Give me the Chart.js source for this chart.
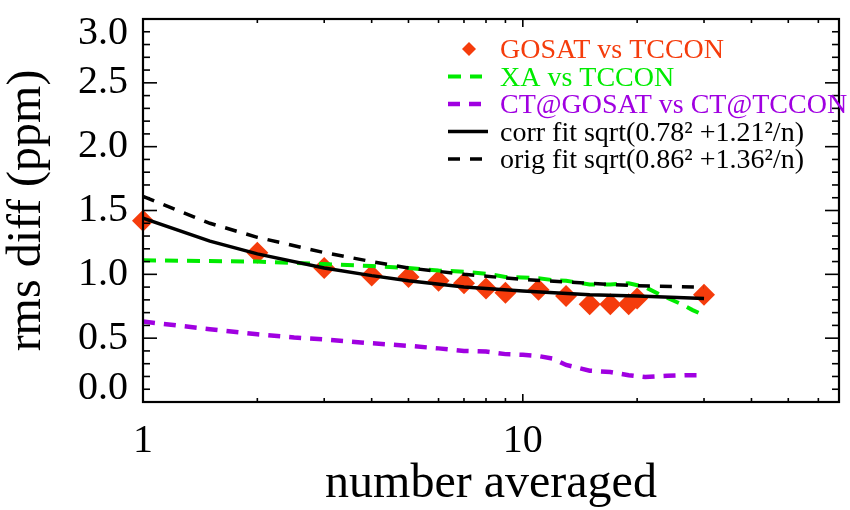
<!DOCTYPE html>
<html><head><meta charset="utf-8">
<script src="https://cdn.jsdelivr.net/npm/chart.js@4/dist/chart.umd.min.js"></script>
<style>html,body{margin:0;padding:0;background:#fff}</style>
</head><body>
<canvas id="c" width="850" height="510"></canvas>
<script>
// ---- data ----
const gosatN   = [1, 2, 3, 4, 5, 6, 7, 8, 9, 11, 13, 15, 17, 19, 20, 30];
const gosatRms = [1.42, 1.17, 1.05, 0.99, 0.98, 0.95, 0.93, 0.89, 0.855, 0.88, 0.83, 0.765, 0.765, 0.765, 0.81, 0.84];

const xaN   = [1, 2, 3, 4, 5, 6, 7, 8, 9, 10, 11, 12, 13, 15, 17, 19, 21, 23, 26, 28, 30];
const xaRms = [1.11, 1.10, 1.08, 1.065, 1.05, 1.03, 1.02, 1.005, 0.98, 0.975, 0.97, 0.955, 0.95, 0.92, 0.92, 0.93, 0.90, 0.84, 0.77, 0.72, 0.68];

const ctN   = [1, 1.5, 2, 2.5, 3, 4, 5, 6, 7, 8, 9, 10, 11, 12, 13, 15, 17, 19, 21, 24, 27, 30];
const ctRms = [0.63, 0.57, 0.53, 0.505, 0.49, 0.46, 0.44, 0.42, 0.40, 0.395, 0.375, 0.37, 0.36, 0.34, 0.29, 0.245, 0.235, 0.21, 0.195, 0.205, 0.21, 0.21];

const fitN    = [1, 1.5, 2, 3, 4, 5, 7, 10, 15, 20, 30];
const corrFit = [1.44, 1.26, 1.16, 1.05, 0.99, 0.95, 0.90, 0.87, 0.84, 0.83, 0.81];
const origFit = [1.61, 1.40, 1.29, 1.17, 1.10, 1.05, 1.00, 0.96, 0.93, 0.91, 0.90];

const seriesLabels = ['GOSAT vs TCCON', 'XA vs TCCON', 'CT@GOSAT vs CT@TCCON',
  'corr fit sqrt(0.78\u00B2 +1.21\u00B2/n)', 'orig fit sqrt(0.86\u00B2 +1.36\u00B2/n)'];

const xTickLabels = [1, 10];
const xMinorTicks = [2, 3, 4, 5, 6, 7, 8, 9, 20, 30, 40, 50, 60];
const yTickLabels = [0, 0.5, 1.0, 1.5, 2.0, 2.5, 3.0];
const yMinorTicks = [0.1,0.2,0.3,0.4,0.6,0.7,0.8,0.9,1.1,1.2,1.3,1.4,1.6,1.7,1.8,1.9,2.1,2.2,2.3,2.4,2.6,2.7,2.8,2.9];

const xMin = 1, xMax = 68, yMin = 0, yMax = 3;

const pts = (xs, ys) => xs.map((v, i) => ({x: v, y: ys[i]}));
const FONT = "'Liberation Serif', 'Times New Roman', serif";
const RED = 'rgb(245,60,12)', GREEN = 'rgb(0,235,0)', PURPLE = 'rgb(160,0,225)';

const axisBox = {
  id: 'axisBox',
  afterDatasetsDraw(chart) {
    const {ctx, chartArea: a, scales: {x, y}} = chart;
    ctx.save();
    ctx.strokeStyle = '#000';
    const seg = (x1, y1, x2, y2) => { ctx.beginPath(); ctx.moveTo(x1, y1); ctx.lineTo(x2, y2); ctx.stroke(); };
    ctx.lineWidth = 1.6;
    yTickLabels.forEach(v => { const p = y.getPixelForValue(v); seg(a.left, p, a.left + 14, p); seg(a.right, p, a.right - 14, p); });
    yMinorTicks.forEach(v => { const p = y.getPixelForValue(v); seg(a.left, p, a.left + 7, p); seg(a.right, p, a.right - 7, p); });
    xTickLabels.forEach(v => { const p = x.getPixelForValue(v); seg(p, a.bottom, p, a.bottom - 8); seg(p, a.top, p, a.top + 8); });
    xMinorTicks.forEach(v => { const p = x.getPixelForValue(v); seg(p, a.bottom, p, a.bottom - 4); seg(p, a.top, p, a.top + 4); });
    ctx.lineWidth = 2.2;
    ctx.strokeRect(a.left, a.top, a.right - a.left, a.bottom - a.top);
    ctx.restore();
  }
};

const legendBox = {
  id: 'legendBox',
  afterDraw(chart) {
    const ctx = chart.ctx;
    const sx = 448, tx = 500, y0 = 58, dy = 27.5;
    ctx.save();
    ctx.font = "28px " + FONT;
    ctx.textBaseline = 'alphabetic';
    ctx.textAlign = 'left';
    chart.data.datasets.forEach((ds, i) => {
      const by = y0 + i * dy;
      const my = by - 9;
      ctx.fillStyle = ds.legendColor;
      ctx.strokeStyle = ds.borderColor;
      if (ds.showLine === false) {
        ctx.beginPath();
        const r = 7, cx = 469;
        ctx.moveTo(cx, my - r); ctx.lineTo(cx + r, my); ctx.lineTo(cx, my + r); ctx.lineTo(cx - r, my); ctx.closePath();
        ctx.fillStyle = ds.pointBackgroundColor; ctx.fill();
        ctx.fillStyle = ds.legendColor;
      } else {
        ctx.lineWidth = ds.borderWidth;
        ctx.setLineDash(ds.borderDash || []);
        ctx.beginPath(); ctx.moveTo(sx, my); ctx.lineTo(sx + (ds.borderDash ? 34 : 40), my); ctx.stroke();
        ctx.setLineDash([]);
      }
      ctx.fillText(ds.label, tx, by);
    });
    ctx.restore();
  }
};

Chart.defaults.color = '#000';
Chart.defaults.font.family = FONT;

new Chart(document.getElementById('c'), {
  type: 'scatter',
  data: {
    datasets: [
      { label: seriesLabels[0], data: pts(gosatN, gosatRms), showLine: false, pointStyle: 'rectRot',
        pointRadius: 11, pointBackgroundColor: RED, pointBorderColor: RED, pointBorderWidth: 0,
        borderColor: RED, legendColor: RED, clip: false, order: 3 },
      { label: seriesLabels[1], data: pts(xaN, xaRms), showLine: true, pointRadius: 0, borderColor: GREEN,
        borderWidth: 4, borderDash: [13, 9], legendColor: GREEN, order: 2 },
      { label: seriesLabels[2], data: pts(ctN, ctRms), showLine: true, pointRadius: 0, borderColor: PURPLE,
        borderWidth: 4.5, borderDash: [12, 9], legendColor: PURPLE, order: 4 },
      { label: seriesLabels[3], data: pts(fitN, corrFit), showLine: true, pointRadius: 0, borderColor: '#000',
        borderWidth: 3.5, legendColor: '#000', order: 0 },
      { label: seriesLabels[4], data: pts(fitN, origFit), showLine: true, pointRadius: 0, borderColor: '#000',
        borderWidth: 3.5, borderDash: [12, 10], legendColor: '#000', order: 1 }
    ]
  },
  options: {
    responsive: false,
    animation: false,
    devicePixelRatio: 1,
    layout: { padding: { left: 0, right: 1, top: 19, bottom: 0 } },
    plugins: { legend: { display: false }, tooltip: { enabled: false } },
    scales: {
      x: {
        type: 'logarithmic', min: xMin, max: xMax,
        grid: { display: false, drawTicks: false },
        border: { display: false },
        afterBuildTicks: s => { s.ticks = xTickLabels.map(v => ({value: v})); },
        afterFit: s => { s.height = 108; s.paddingLeft = 0; s.paddingRight = 0; },
        ticks: { autoSkip: false, maxRotation: 0, padding: 15, font: { size: 40, family: FONT }, callback: v => String(v) },
        title: { display: true, text: 'number averaged', font: { size: 48, family: FONT, lineHeight: 1 }, padding: { top: 0, bottom: 2 } }
      },
      y: {
        type: 'linear', min: yMin, max: yMax,
        grid: { display: false, drawTicks: false },
        border: { display: false },
        afterBuildTicks: s => { s.ticks = yTickLabels.map(v => ({value: v})); },
        afterFit: s => { s.width = 143; s.paddingTop = 0; s.paddingBottom = 0; },
        ticks: { padding: 15, font: { size: 40, family: FONT, lineHeight: 0.7 },
          callback: v => { const t = v.toFixed(1); if (v === yMax) return ['', t]; if (v === yMin) return [t, '']; return t; } },
        title: { display: true, text: 'rms diff (ppm)', font: { size: 48, family: FONT, lineHeight: 1 }, padding: { top: 3, bottom: 0 } }
      }
    }
  },
  plugins: [axisBox, legendBox]
});
</script>
</body></html>
